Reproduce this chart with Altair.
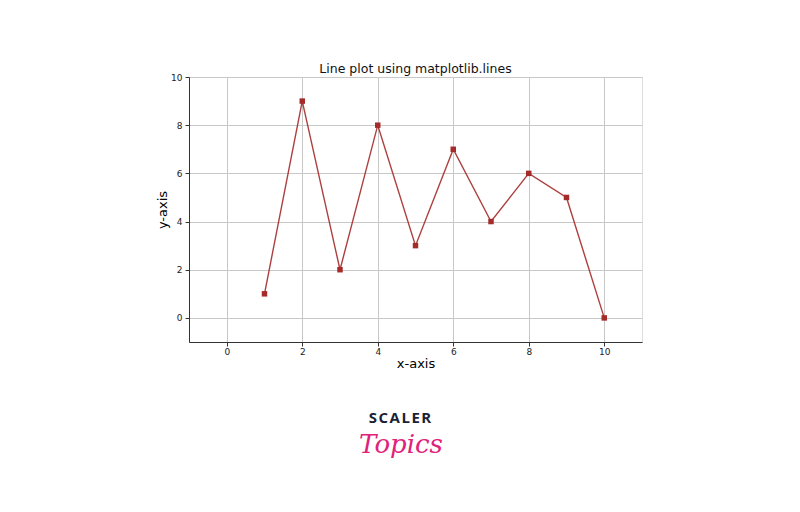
import altair as alt
import pandas as pd

x_vals = [1, 2, 3, 4, 5, 6, 7, 8, 9, 10]
y_vals = [1, 9, 2, 8, 3, 7, 4, 6, 5, 0]
x_ticks = [0, 2, 4, 6, 8, 10]
y_ticks = [0, 2, 4, 6, 8, 10]

df = pd.DataFrame({"x": x_vals, "y": y_vals})
FONT = "DejaVu Sans"
COLOR = "#a52a2a"

xenc = alt.X("x:Q", scale=alt.Scale(domain=[-1, 11], nice=False, zero=False),
             axis=alt.Axis(values=x_ticks, title="x-axis", titleFontSize=13, titleFontWeight="normal",
                           titleFont=FONT, titlePadding=1, labelFont=FONT, labelFontSize=9,
                           labelColor="#222", tickColor="#333", tickSize=4, domainColor="#333",
                           gridColor="#c8c8c8", grid=True, labelPadding=1))
yenc = alt.Y("y:Q", scale=alt.Scale(domain=[-1, 10], nice=False, zero=False),
             axis=alt.Axis(values=y_ticks, title="y-axis", titleFontSize=13, titleFontWeight="normal",
                           titleFont=FONT, titlePadding=1, labelFont=FONT, labelFontSize=9,
                           labelColor="#222", tickColor="#333", tickSize=4, domainColor="#333",
                           gridColor="#c8c8c8", grid=True, labelPadding=3))

line = alt.Chart(df).mark_line(color=COLOR, strokeWidth=1.4, opacity=0.9).encode(x=xenc, y=yenc)
pts = alt.Chart(df).mark_point(shape="square", filled=True, color=COLOR, size=30, opacity=1).encode(x="x:Q", y="y:Q")

logo1 = alt.Chart(pd.DataFrame({"t": ["S\u200aC\u200aA\u200aL\u200aE\u200aR"]})).mark_text(
    font="Open Sans", fontSize=15, fontWeight="bold", color="#1a1f36", align="center", baseline="middle"
).encode(text="t:N", x=alt.value(211), y=alt.value(341))
logo2 = alt.Chart(pd.DataFrame({"t": ["Topics"]})).mark_text(
    font="DejaVu Serif", fontSize=26, fontStyle="italic", color="#e0227a", align="center", baseline="middle"
).encode(text="t:N", x=alt.value(212), y=alt.value(368))

chart = alt.layer(line, pts, logo1, logo2).properties(
    width=453, height=265,
    title=alt.TitleParams("Line plot using matplotlib.lines", font=FONT, fontSize=12.5,
                          fontWeight="normal", color="#111", offset=-2),
    autosize=alt.AutoSizeParams(type="none"),
    padding={"left": 181, "top": 69, "right": 150, "bottom": 162},
).configure_view(stroke="#333", strokeWidth=1).configure(background="white")

chart.save("out.html", embed_options={"renderer": "svg", "actions": False})
